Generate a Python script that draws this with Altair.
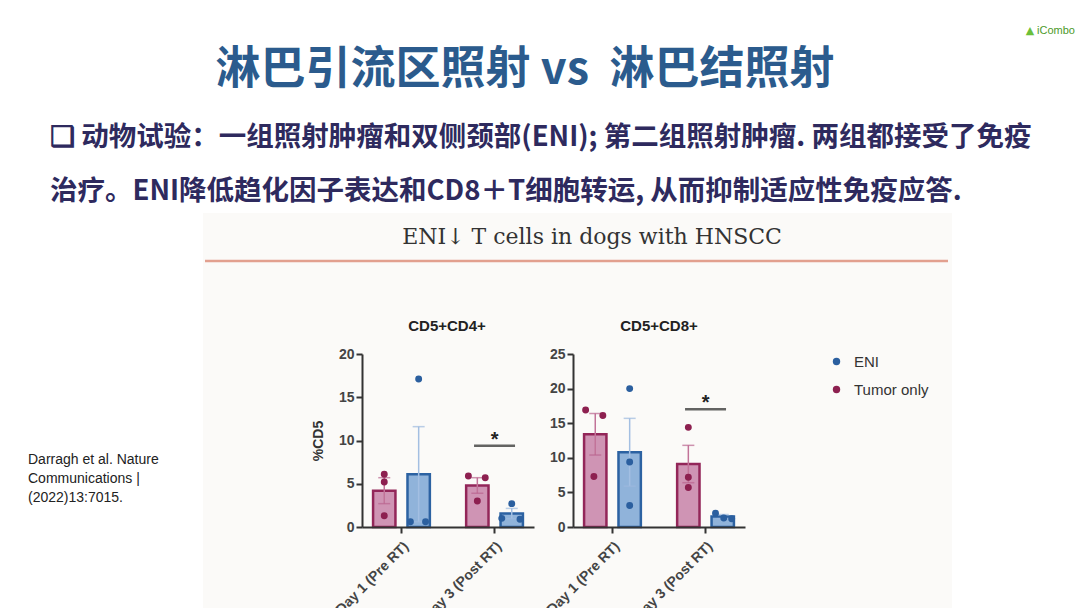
import altair as alt
import pandas as pd

# ---------------- data ----------------
days = ["Day 1 (Pre RT)", "Day 3 (Post RT)"]
groups = ["Tumor only", "ENI"]
legend_order = ["ENI", "Tumor only"]

# order of cells: Day1-Tumor, Day1-ENI, Day3-Tumor, Day3-ENI
cd4_mean = [4.2, 6.1, 4.8, 1.55]
cd4_sem = [1.5, 5.5, 0.9, 0.6]
cd4_dots = [[6.1, 5.2, 1.3], [17.1, 0.6, 0.6], [5.9, 5.7, 3.0], [2.7, 1.0, 0.9]]
cd4_jitter = [[0, 0, 0], [0, -0.24, 0.2], [-0.26, 0.23, 0], [0, -0.29, 0.24]]
cd4_sig = 9.4

cd8_mean = [13.4, 10.8, 9.1, 1.5]
cd8_sem = [3.0, 4.9, 2.7, 0.3]
cd8_dots = [[16.9, 16.1, 7.3], [20.0, 9.4, 3.1], [14.4, 7.2, 5.7], [2.0, 1.3, 1.2]]
cd8_jitter = [[-0.28, 0.22, -0.04], [0, 0, 0], [0, 0, 0], [-0.21, 0.03, 0.26]]
cd8_sig = 17.0

slide_title = "淋巴引流区照射 vs\u00a0 淋巴结照射"
bullet_1 = "❑ 动物试验：一组照射肿瘤和双侧颈部(ENI); 第二组照射肿瘤. 两组都接受了免疫"
bullet_2 = "治疗。ENI降低趋化因子表达和CD8＋T细胞转运, 从而抑制适应性免疫应答."
figure_title = "ENI↓ T cells in dogs with HNSCC"
panel_titles = ["CD5+CD4+", "CD5+CD8+"]
citation = ["Darragh et al. Nature", "Communications |", "(2022)13:7015."]
logo = "iCombo"

# ---------------- styling ----------------
OX, OY = 362, 354  # pixel origin of the first panel's plot area
PW, PH = 172, 173

paint_domain = ["Tumor only", "ENI", "Tumor only err", "ENI err"]
fill_scale = alt.Scale(domain=paint_domain, range=["#cf94b4", "#90b3da", "#b9648f", "#9db9de"])
stroke_scale = alt.Scale(domain=paint_domain, range=["#932659", "#2c62a2", "#c27399", "#a3bfe2"])
dot_scale = alt.Scale(domain=legend_order, range=["#2b5f9f", "#8d2050"])

axis_common = dict(
    domainColor="#333", domainWidth=2, tickColor="#333", tickWidth=2, tickSize=6,
    labelFont="Liberation Sans", labelFontSize=14, labelFontWeight="bold", labelColor="#444",
    grid=False, titleFont="Liberation Sans", titleFontSize=14, titleFontWeight="bold",
    titleColor="#333", zindex=1,
)

cells = [(d, g) for d in days for g in groups]


def bar_frame(means, sems):
    return pd.DataFrame({
        "day": [c[0] for c in cells],
        "group": [c[1] for c in cells],
        "mean": means,
        "sem": sems,
    })


def dot_frame(dots, jitter):
    rows = []
    for (d, g), vals, js in zip(cells, dots, jitter):
        for v, j in zip(vals, js):
            rows.append({"day": d, "group": g, "value": v, "slot": groups.index(g) + j})
    return pd.DataFrame(rows)


one = pd.DataFrame({"k": [0]})


def deco_text(text, x, y, **kw):
    return alt.Chart(one).mark_text(**kw).encode(
        x=alt.value(x - OX), y=alt.value(y - OY), text=alt.value(text)
    )


def decorations():
    layers = []
    # slide canvas
    layers.append(alt.Chart(one).mark_rect(color="white").encode(
        x=alt.value(-OX), x2=alt.value(1080 - OX), y=alt.value(-OY), y2=alt.value(608 - OY)))
    # figure background
    layers.append(alt.Chart(one).mark_rect(color="#fbfaf8").encode(
        x=alt.value(203 - OX), x2=alt.value(952 - OX), y=alt.value(213 - OY), y2=alt.value(608 - OY)))
    layers.append(alt.Chart(one).mark_rule(color="#e2a08f", strokeWidth=2.5).encode(
        x=alt.value(205 - OX), x2=alt.value(948 - OX), y=alt.value(261 - OY)))
    layers.append(deco_text(slide_title, 525, 70, font="Noto Sans CJK SC", fontSize=45,
                            fontWeight="bold", color="#2b5b8d", align="center", baseline="middle"))
    layers.append(deco_text(bullet_1, 50, 138, font="Noto Sans CJK SC", fontSize=27.5,
                            fontWeight="bold", color="#2e2a5e", align="left", baseline="middle"))
    layers.append(deco_text(bullet_2, 50, 192, font="Noto Sans CJK SC", fontSize=27.5,
                            fontWeight="bold", color="#2e2a5e", align="left", baseline="middle"))
    layers.append(deco_text(figure_title, 592, 237, font="DejaVu Serif", fontSize=22,
                            color="#333", align="center", baseline="middle"))
    layers.append(deco_text(citation, 28, 453, font="Liberation Sans", fontSize=14,
                            color="#222", align="left", baseline="top", lineHeight=19))
    layers.append(deco_text("▲", 1030, 31, font="DejaVu Sans", fontSize=11,
                            color="#6cbf3a", align="center", baseline="middle"))
    layers.append(deco_text(logo, 1056, 31, font="Liberation Sans", fontSize=11,
                            color="#4c9a2a", align="center", baseline="middle"))
    layers.append(deco_text(panel_titles[0], 447, 326, font="Liberation Sans", fontSize=15,
                            fontWeight="bold", color="#222", align="center", baseline="middle"))
    return layers


def panel(means, sems, dots, jitter, sig, ymax, ytitle, extra=None, title=None):
    bdf = bar_frame(means, sems)
    ddf = dot_frame(dots, jitter)
    X = alt.X("day:N", sort=days,
              scale=alt.Scale(domain=days, paddingInner=0.152, paddingOuter=0),
              axis=alt.Axis(title=None, labelAngle=315, labelPadding=6, **axis_common))
    yaxis = alt.Axis(values=list(range(0, ymax + 1, 5)), titlePadding=13, **axis_common)
    yscale = alt.Scale(domain=[0, ymax], nice=False)
    XO = alt.XOffset("group:N", sort=groups,
                     scale=alt.Scale(domain=groups, paddingInner=0.35, paddingOuter=0.322))

    base = alt.Chart(bdf)
    bars = base.mark_bar(strokeWidth=2.5).encode(
        x=X, xOffset=XO,
        y=alt.Y("mean:Q", scale=yscale, axis=yaxis, title=ytitle),
        fill=alt.Fill("group:N", scale=fill_scale, legend=None),
        stroke=alt.Stroke("group:N", scale=stroke_scale, legend=None),
    )
    err = base.transform_calculate(
        lo="datum.mean - datum.sem", hi="datum.mean + datum.sem", sk="datum.group + ' err'"
    )
    rule = err.mark_rule(strokeWidth=1.5).encode(
        x=X, xOffset=XO,
        y=alt.Y("lo:Q", scale=yscale, axis=yaxis, title=ytitle), y2="hi:Q",
        stroke=alt.Stroke("sk:N", scale=stroke_scale, legend=None),
    )
    cap_hi = err.mark_tick(size=12, thickness=1.5).encode(
        x=X, xOffset=XO,
        y=alt.Y("hi:Q", scale=yscale, axis=yaxis, title=ytitle),
        fill=alt.Fill("sk:N", scale=fill_scale, legend=None),
    )
    cap_lo = err.mark_tick(size=12, thickness=1.5).encode(
        x=X, xOffset=XO,
        y=alt.Y("lo:Q", scale=yscale, axis=yaxis, title=ytitle),
        fill=alt.Fill("sk:N", scale=fill_scale, legend=None),
    )
    pts = alt.Chart(ddf).mark_circle(size=48, opacity=1).encode(
        x=X,
        xOffset=alt.XOffset("slot:Q", scale=alt.Scale(domain=[-0.647, 1.647])),
        y=alt.Y("value:Q", scale=yscale, axis=yaxis, title=ytitle),
        color=alt.Color("group:N", scale=dot_scale, legend=alt.Legend(
            title=None, orient="none", legendX=467, legendY=0, symbolType="circle",
            symbolSize=55, symbolStrokeWidth=0, labelFont="Liberation Sans",
            labelFontSize=15, labelColor="#333", labelOffset=10, rowPadding=12)),
    )
    sdf = pd.DataFrame({"day": [days[1]], "y": [sig]})
    sig_line = alt.Chart(sdf).mark_tick(size=41, thickness=2.5, color="#222").encode(
        x=X, y=alt.Y("y:Q", scale=yscale, axis=yaxis, title=ytitle))
    star = alt.Chart(sdf).mark_text(text="*", fontSize=20, fontWeight="bold", color="#222",
                                    baseline="alphabetic", font="Liberation Sans").encode(
        x=X, y=alt.Y("y:Q", scale=yscale, axis=yaxis, title=ytitle))

    layers = (extra or []) + [bars, rule, cap_hi, cap_lo, pts, sig_line, star]
    ch = alt.layer(*layers).resolve_scale(xOffset="independent")
    if title is not None:
        ch = ch.properties(width=PW, height=PH, title=alt.TitleParams(
            title, font="Liberation Sans", fontSize=15, fontWeight="bold",
            color="#222", anchor="middle", offset=13))
    else:
        ch = ch.properties(width=PW, height=PH)
    return ch


p1 = panel(cd4_mean, cd4_sem, cd4_dots, cd4_jitter, cd4_sig, 20, "%CD5",
           extra=decorations())
p2 = panel(cd8_mean, cd8_sem, cd8_dots, cd8_jitter, cd8_sig, 25, None,
           title=panel_titles[1])

chart = alt.hconcat(p1, p2, spacing=573 - OX - PW, bounds="flush").properties(
    padding=0, background="white"
).configure_view(stroke=None)

chart.save("out.html", embed_options={"renderer": "svg", "actions": False})
